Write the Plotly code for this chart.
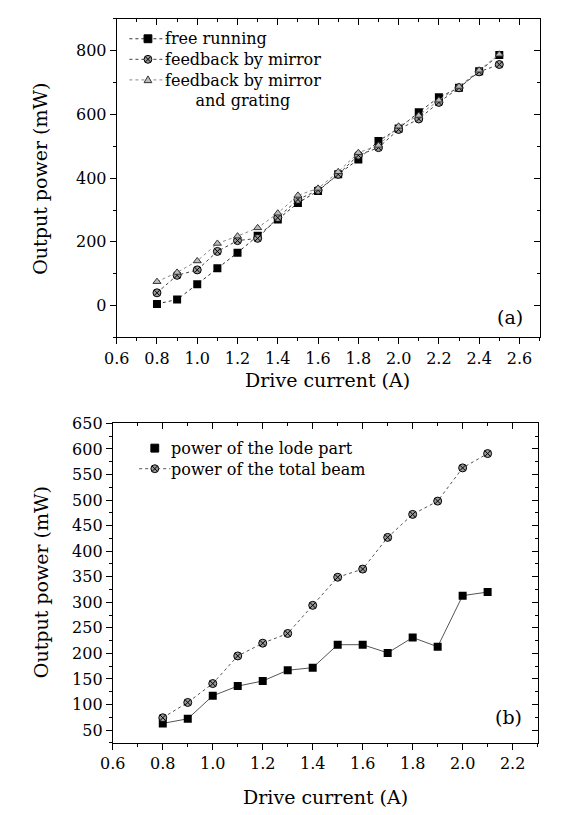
import plotly.graph_objects as go

W, H = 563, 815
OFF = 8  # default body margin of the html page
FONT = "DejaVu Serif"

# ---- panel (a) data ----
current_a = [0.8, 0.9, 1.0, 1.1, 1.2, 1.3, 1.4, 1.5, 1.6, 1.7, 1.8, 1.9, 2.0, 2.1, 2.2, 2.3, 2.4, 2.5]
free_running = [5, 19, 67, 117, 166, 219, 270, 322, 360, 412, 459, 517, 556, 607, 654, 684, 736, 787]
by_mirror = [40, 95, 112, 170, 204, 211, 276, 333, 362, 412, 472, 496, 553, 586, 638, 684, 734, 757]
mirror_grating = [75, 104, 140, 195, 218, 244, 290, 346, 368, 420, 480, 503, 563, 597, 645, 688, 739, 789]

# ---- panel (b) data ----
current_b = [0.8, 0.9, 1.0, 1.1, 1.2, 1.3, 1.4, 1.5, 1.6, 1.7, 1.8, 1.9, 2.0, 2.1]
lode_part = [63, 72, 117, 136, 146, 167, 172, 217, 217, 201, 231, 213, 313, 320]
total_beam = [74, 104, 141, 195, 220, 239, 294, 349, 365, 427, 472, 498, 563, 591]

legend_a = ["free running", "feedback by mirror", "feedback by mirror",
            "\u00a0\u00a0\u00a0\u00a0\u00a0\u00a0and grating"]
legend_b = ["power of the lode part", "power of the total beam"]

FW, FH = W - OFF, H - OFF


def px_x(px):
    return (px - OFF) / FW


def px_y(py):
    return 1 - (py - OFF) / FH


SQ = dict(symbol="square", size=8, color="black")
CIRC = dict(symbol="circle-x", size=8, color="#999", line=dict(color="black", width=1))
TRI = dict(symbol="triangle-up", size=7, color="#bbb", line=dict(color="#333", width=1))

fig = go.Figure()

# top panel series
fig.add_trace(go.Scatter(x=current_a, y=free_running, name=legend_a[0], mode="lines+markers",
                         line=dict(color="#333", width=1, dash="dot"), marker=SQ,
                         xaxis="x", yaxis="y"))
fig.add_trace(go.Scatter(x=current_a, y=by_mirror, name=legend_a[1], mode="lines+markers",
                         line=dict(color="#444", width=1, dash="dot"), marker=CIRC,
                         xaxis="x", yaxis="y"))
fig.add_trace(go.Scatter(x=current_a, y=mirror_grating, name="feedback by mirror and grating",
                         mode="lines+markers", line=dict(color="#888", width=1, dash="dot"), marker=TRI,
                         xaxis="x", yaxis="y"))

# bottom panel series
fig.add_trace(go.Scatter(x=current_b, y=lode_part, name=legend_b[0], mode="lines+markers",
                         line=dict(color="#555", width=1), marker=SQ,
                         xaxis="x2", yaxis="y2"))
fig.add_trace(go.Scatter(x=current_b, y=total_beam, name=legend_b[1], mode="lines+markers",
                         line=dict(color="#555", width=1, dash="dot"), marker=CIRC,
                         xaxis="x2", yaxis="y2"))

# empty traces so the inside-tick mirror axes get drawn
fig.add_trace(go.Scatter(x=[None], y=[None], xaxis="x3", yaxis="y3"))
fig.add_trace(go.Scatter(x=[None], y=[None], xaxis="x4", yaxis="y4"))

dom_xa = [px_x(106), px_x(539)]
dom_ya = [px_y(332), px_y(10)]
dom_xb = [px_x(102), px_x(537)]
dom_yb = [px_y(742), px_y(419)]

tickfont = dict(family=FONT, size=16, color="black")


def axis(domain, rng, tick0, dtick, minor, anchor, fmt=None):
    d = dict(domain=domain, range=rng, tick0=tick0, dtick=dtick, anchor=anchor,
             ticks="outside", ticklen=6, tickwidth=1, tickcolor="black",
             minor=dict(ticks="outside", dtick=minor, tick0=tick0, ticklen=3, tickcolor="black"),
             showline=True, linecolor="black", linewidth=1, mirror=True,
             showgrid=False, zeroline=False, tickfont=tickfont)
    if fmt:
        d["tickformat"] = fmt
    return d


def inner(rng, tick0, dtick, minor, side, overlay, anchor):
    return dict(range=rng, tick0=tick0, dtick=dtick, side=side, overlaying=overlay, anchor=anchor,
                ticks="inside", ticklen=6, tickcolor="black", showticklabels=False,
                minor=dict(ticks="inside", dtick=minor, tick0=tick0, ticklen=3, tickcolor="black"),
                showline=False, showgrid=False, zeroline=False)


fig.update_layout(
    width=FW, height=FH,
    margin=dict(l=0, r=0, t=0, b=0),
    paper_bgcolor="white", plot_bgcolor="white",
    font=dict(family=FONT, color="black"),
    showlegend=False,
    xaxis=axis(dom_xa, [0.6, 2.7], 0.6, 0.2, 0.1, "y", ".1f"),
    yaxis=axis(dom_ya, [-100, 900], 0, 200, 100, "x"),
    xaxis2=axis(dom_xb, [0.6, 2.3], 0.6, 0.2, 0.1, "y2", ".1f"),
    yaxis2=axis(dom_yb, [25, 650], 50, 50, 25, "x2"),
    xaxis3=inner([0.6, 2.7], 0.6, 0.2, 0.1, "top", "x", "y"),
    yaxis3=inner([-100, 900], 0, 200, 100, "right", "y", "x"),
    xaxis4=inner([0.6, 2.3], 0.6, 0.2, 0.1, "top", "x2", "y2"),
    yaxis4=inner([25, 650], 50, 50, 25, "right", "y2", "x2"),
)


# ---- hand-drawn legends (paper coordinates from pixel positions) ----
def sample_line(x0, x1, y, color, dash):
    fig.add_shape(type="line", xref="paper", yref="paper",
                  x0=px_x(x0), x1=px_x(x1), y0=px_y(y), y1=px_y(y),
                  line=dict(color=color, width=1, dash=dash))


def sample_square(cx, cy, r=4):
    fig.add_shape(type="rect", xref="paper", yref="paper",
                  x0=px_x(cx - r), x1=px_x(cx + r), y0=px_y(cy + r), y1=px_y(cy - r),
                  fillcolor="black", line=dict(color="black", width=1))


def sample_circle(cx, cy, r=4):
    fig.add_shape(type="circle", xref="paper", yref="paper",
                  x0=px_x(cx - r), x1=px_x(cx + r), y0=px_y(cy + r), y1=px_y(cy - r),
                  fillcolor="#999", line=dict(color="black", width=1))
    d = r * 0.7
    for sx in (-1, 1):
        fig.add_shape(type="line", xref="paper", yref="paper",
                      x0=px_x(cx - d), x1=px_x(cx + d), y0=px_y(cy - sx * d), y1=px_y(cy + sx * d),
                      line=dict(color="black", width=1))


def sample_triangle(cx, cy, r=4):
    path = "M {} {} L {} {} L {} {} Z".format(
        px_x(cx - r), px_y(cy + r * 0.7), px_x(cx + r), px_y(cy + r * 0.7), px_x(cx), px_y(cy - r))
    fig.add_shape(type="path", xref="paper", yref="paper", path=path,
                  fillcolor="#bbb", line=dict(color="#333", width=1))


def text_block(lines, x, y_top, size=16):
    fig.add_annotation(text="<br>".join(lines), xref="paper", yref="paper",
                       x=px_x(x), y=px_y(y_top), xanchor="left", yanchor="top", align="left",
                       showarrow=False, font=dict(family=FONT, size=size, color="black"))


STEP = 20.8  # line height of a 16px text block
ya0 = 30
sample_line(119, 158, ya0, "#333", "dot")
sample_square(138, ya0)
sample_line(119, 158, ya0 + STEP, "#444", "dot")
sample_circle(138, ya0 + STEP)
sample_line(119, 158, ya0 + 2 * STEP, "#888", "dot")
sample_triangle(138, ya0 + 2 * STEP)
text_block(legend_a, 153, ya0 - STEP / 2 - 1)

yb0 = 444
sample_square(145, yb0)
sample_line(129, 161, yb0 + STEP, "#555", "dot")
sample_circle(145, yb0 + STEP)
text_block(legend_b, 160, yb0 - STEP / 2 - 1)

titlefont = dict(family=FONT, size=19, color="black")
ann = [
    dict(text="Drive current (A)", x=px_x(322), y=px_y(375)),
    dict(text="Drive current (A)", x=px_x(320), y=px_y(797)),
    dict(text="Output power (mW)", x=px_x(28), y=px_y(172), textangle=-90),
    dict(text="Output power (mW)", x=px_x(28), y=px_y(580), textangle=-90),
    dict(text="(a)", x=px_x(509), y=px_y(311)),
    dict(text="(b)", x=px_x(507), y=px_y(716)),
]
for a in ann:
    fig.add_annotation(xref="paper", yref="paper", showarrow=False,
                       xanchor="center", yanchor="middle", font=titlefont, **a)

fig.write_html("out.html")
